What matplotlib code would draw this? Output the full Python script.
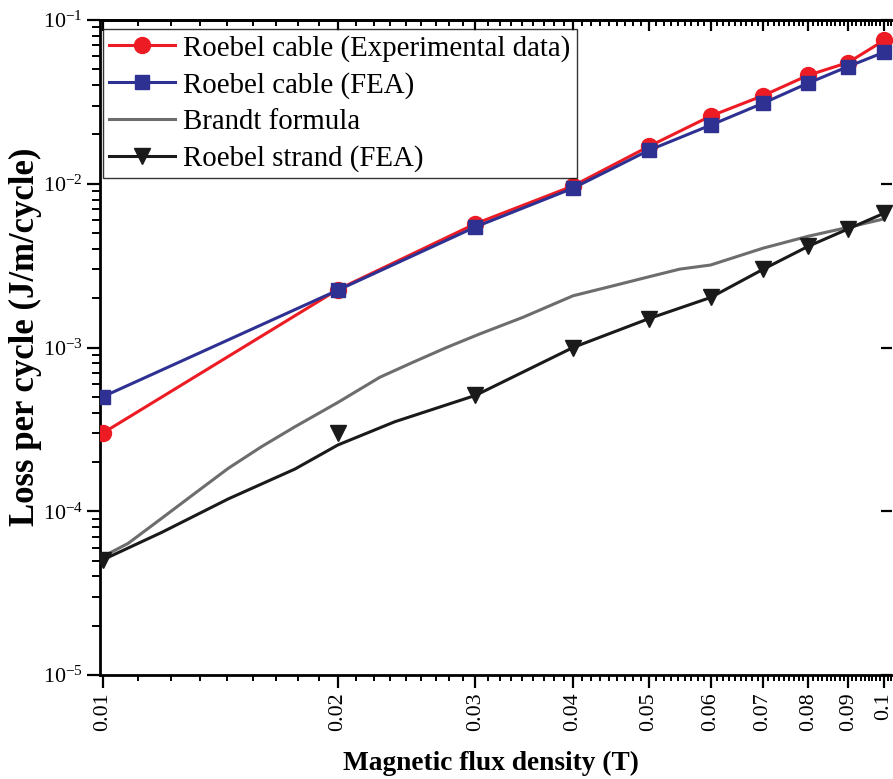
import numpy as np
import matplotlib
matplotlib.use("Agg")
import matplotlib.pyplot as plt
from matplotlib.ticker import FixedLocator, FuncFormatter, LogLocator, NullFormatter

plt.rcParams['font.family'] = ['Liberation Serif', 'DejaVu Serif']
plt.rcParams['mathtext.fontset'] = 'custom'
plt.rcParams['mathtext.rm'] = 'Liberation Serif'
plt.rcParams['mathtext.it'] = 'Liberation Serif:italic'

# Data
B = [0.01, 0.02, 0.03, 0.04, 0.05, 0.06, 0.07, 0.08, 0.09, 0.1]
cable_exp = [3.0e-4, 2.26e-3, 5.7e-3, 9.7e-3, 1.69e-2, 2.59e-2, 3.45e-2, 4.6e-2, 5.5e-2, 7.5e-2]
cable_fea = [5.0e-4, 2.24e-3, 5.45e-3, 9.4e-3, 1.6e-2, 2.28e-2, 3.1e-2, 4.12e-2, 5.2e-2, 6.35e-2]
strand_fea_markers = [5.05e-5, 3.0e-4, 5.1e-4, 1.0e-3, 1.5e-3, 2.02e-3, 3.0e-3, 4.15e-3, 5.3e-3, 6.6e-3]
strand_line_B = [0.01, 0.0119, 0.01448, 0.01762, 0.02, 0.02365, 0.03, 0.04, 0.05, 0.06, 0.07, 0.08, 0.09, 0.1]
strand_line = [5.05e-5, 7.43e-5, 1.19e-4, 1.81e-4, 2.54e-4, 3.52e-4, 5.1e-4, 1.0e-3, 1.5e-3, 2.02e-3, 3.0e-3, 4.15e-3, 5.3e-3, 6.6e-3]
brandt_B = [0.01, 0.01078, 0.0119, 0.01313, 0.01448, 0.01597, 0.01762, 0.02, 0.02263, 0.02496,
            0.02755, 0.03038, 0.03452, 0.04, 0.045, 0.04966, 0.05477, 0.06, 0.07, 0.08, 0.09, 0.1]
brandt = [5.28e-5, 6.37e-5, 9.06e-5, 1.29e-4, 1.83e-4, 2.48e-4, 3.28e-4, 4.62e-4, 6.58e-4, 8.13e-4,
          1.0e-3, 1.21e-3, 1.53e-3, 2.07e-3, 2.38e-3, 2.68e-3, 3.01e-3, 3.19e-3, 4.04e-3, 4.78e-3, 5.42e-3, 6.1e-3]

x_major = [0.01, 0.02, 0.03, 0.04, 0.05, 0.06, 0.07, 0.08, 0.09, 0.1]
x_labels = ['0.01', '0.02', '0.03', '0.04', '0.05', '0.06', '0.07', '0.08', '0.09', '0.1']

fig = plt.figure(figsize=(8.93, 7.79), dpi=100)
ax = fig.add_axes([100/893, 104/779, 792/893, 655/779])

red = '#ED1C24'
blue = '#2E3192'
gray = '#6D6D6D'
black = '#1A1A1A'

ax.plot(B, cable_exp, color=red, lw=2.2, marker='o', ms=11.5, label='Roebel cable (Experimental data)', zorder=3)
ax.plot(B, cable_fea, color=blue, lw=2.2, marker='s', ms=9.5, label='Roebel cable (FEA)', zorder=4)
ax.plot(brandt_B, brandt, color=gray, lw=2.2, label='Brandt formula', zorder=2)
ax.plot(strand_line_B, strand_line, color=black, lw=2.2, zorder=2)
ax.plot(B, strand_fea_markers, color=black, lw=0, marker='v', ms=11.5, zorder=3)
ax.plot([], [], color=black, lw=2.2, marker='v', ms=11.5, label='Roebel strand (FEA)')

ax.set_xscale('log')
ax.set_yscale('log')
ax.set_xlim(0.00992, 0.1024)
ax.set_ylim(1e-5, 1e-1)

ax.xaxis.set_major_locator(FixedLocator(x_major))
ax.xaxis.set_major_formatter(FuncFormatter(lambda v, p: x_labels[x_major.index(min(x_major, key=lambda m: abs(m - v)))]))
minors = []
for i in range(len(x_major)):
    for k in range(1, 9):
        minors.append(x_major[i] + k * 0.01 / 9)
ax.xaxis.set_minor_locator(FixedLocator(minors))
ax.xaxis.set_minor_formatter(NullFormatter())

ax.yaxis.set_major_locator(LogLocator(base=10, numticks=10))
ax.yaxis.set_minor_locator(LogLocator(base=10, subs=np.arange(2, 10), numticks=20))
ax.yaxis.set_minor_formatter(NullFormatter())
ax.yaxis.set_major_formatter(FuncFormatter(lambda v, p: r'$\mathregular{10^{%d}}$' % int(round(np.log10(v)))))

for lbl in ax.get_xticklabels():
    lbl.set_rotation(90)
ax.tick_params(axis='x', which='major', direction='out', length=9, width=1.6, labelsize=15.8, pad=3.5, top=False)
ax.tick_params(axis='x', which='minor', direction='out', length=4.5, width=1.4, top=False)
ax.tick_params(axis='y', which='major', direction='out', length=9.4, width=1.6, labelsize=15.8, pad=3)
ax.tick_params(axis='y', which='minor', direction='out', length=5.8, width=1.4)

secx = ax.secondary_xaxis('top')
secx.xaxis.set_major_locator(FixedLocator(x_major))
secx.xaxis.set_minor_locator(FixedLocator(minors))
secx.xaxis.set_major_formatter(NullFormatter())
secx.xaxis.set_minor_formatter(NullFormatter())
secx.tick_params(axis='x', which='major', direction='in', length=8, width=1.6)
secx.tick_params(axis='x', which='minor', direction='in', length=4, width=1.4)
secx.spines['top'].set_linewidth(2)

secy = ax.secondary_yaxis('right')
secy.yaxis.set_major_locator(LogLocator(base=10, numticks=10))
secy.yaxis.set_minor_locator(FixedLocator([]))
secy.yaxis.set_major_formatter(NullFormatter())
secy.tick_params(axis='y', which='major', direction='in', length=8, width=1.6)
secy.spines['right'].set_visible(False)

for s in ['left', 'bottom', 'top']:
    ax.spines[s].set_linewidth(2)
ax.spines['right'].set_visible(False)

ax.set_ylabel('Loss per cycle (J/m/cycle)', fontsize=25, fontweight='bold')
ax.yaxis.set_label_coords(-0.073, 0.517)
ax.set_xlabel('Magnetic flux density (T)', fontsize=19.7, fontweight='bold')
ax.xaxis.set_label_coords(0.493, -0.116)

leg = ax.legend(loc='upper left', bbox_to_anchor=(0.004, 0.9863), fontsize=20.8, frameon=True,
                fancybox=False, edgecolor='black', numpoints=1, handlelength=2.3,
                borderpad=0.2, labelspacing=0.35, handletextpad=0.28, borderaxespad=0)
leg.get_frame().set_linewidth(1.0)

fig.savefig('out.png', dpi=100)
